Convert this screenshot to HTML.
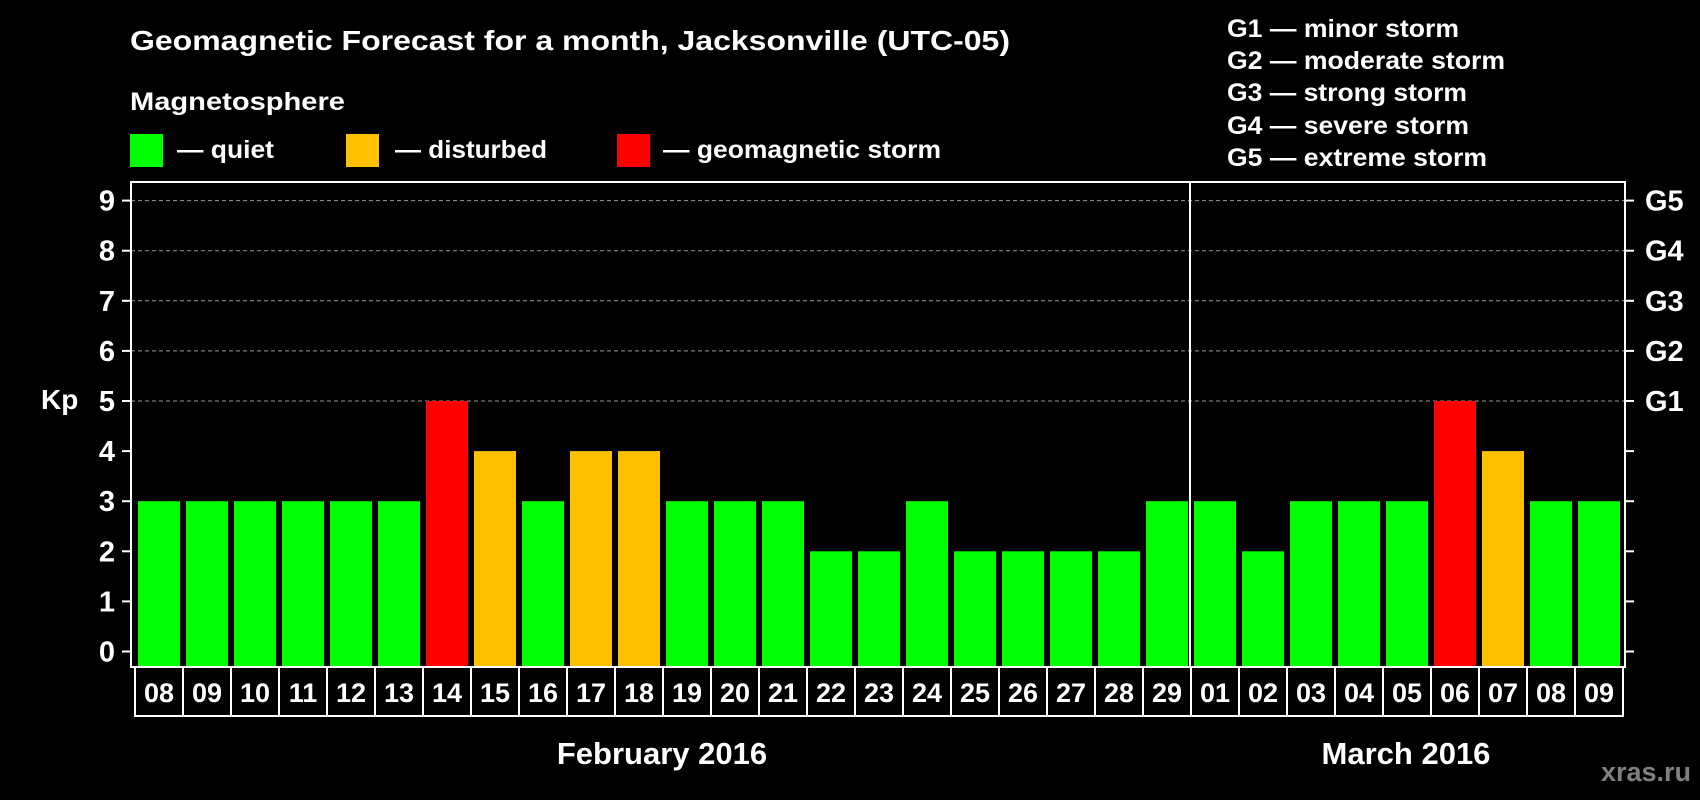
<!DOCTYPE html>
<html><head><meta charset="utf-8"><style>
html,body{margin:0;padding:0;background:#000;width:1700px;height:800px;overflow:hidden}
svg{display:block;font-family:"Liberation Sans",Arial,sans-serif;font-weight:bold}
</style></head><body>
<svg id="chart" width="1700" height="800" viewBox="0 0 1700 800">
<rect width="1700" height="800" fill="#000"/>
<text x="130" y="50" fill="#fff" font-size="28" textLength="880" lengthAdjust="spacingAndGlyphs">Geomagnetic Forecast for a month, Jacksonville (UTC-05)</text>
<text x="130" y="110" fill="#fff" font-size="25" textLength="215" lengthAdjust="spacingAndGlyphs">Magnetosphere</text>
<g><rect x="130" y="134" width="33" height="33" fill="#00ff00"/><text x="177" y="158" fill="#fff" font-size="25" textLength="97" lengthAdjust="spacingAndGlyphs">— quiet</text></g>
<g><rect x="346" y="134" width="33" height="33" fill="#ffc000"/><text x="395" y="158" fill="#fff" font-size="25" textLength="152" lengthAdjust="spacingAndGlyphs">— disturbed</text></g>
<g><rect x="617" y="134" width="33" height="33" fill="#ff0000"/><text x="663" y="158" fill="#fff" font-size="25" textLength="278" lengthAdjust="spacingAndGlyphs">— geomagnetic storm</text></g>
<g fill="#fff" font-size="25">
<text x="1227" y="37" textLength="232" lengthAdjust="spacingAndGlyphs">G1 — minor storm</text>
<text x="1227" y="69" textLength="278" lengthAdjust="spacingAndGlyphs">G2 — moderate storm</text>
<text x="1227" y="101" textLength="240" lengthAdjust="spacingAndGlyphs">G3 — strong storm</text>
<text x="1227" y="134" textLength="242" lengthAdjust="spacingAndGlyphs">G4 — severe storm</text>
<text x="1227" y="166" textLength="260" lengthAdjust="spacingAndGlyphs">G5 — extreme storm</text>
</g>
<text x="41" y="409" fill="#fff" font-size="28">Kp</text>
<text x="662" y="764" fill="#fff" font-size="31" text-anchor="middle">February 2016</text>
<text x="1406" y="764" fill="#fff" font-size="31" text-anchor="middle">March 2016</text>
<text x="1691" y="781" fill="#808080" font-size="27" text-anchor="end">xras.ru</text>
<g id="plot"></g>
</svg>
<script>
const dayLabels=["08","09","10","11","12","13","14","15","16","17","18","19","20","21","22","23","24","25","26","27","28","29","01","02","03","04","05","06","07","08","09"];
const kpValues=[3,3,3,3,3,3,5,4,3,4,4,3,3,3,2,2,3,2,2,2,2,3,3,2,3,3,3,5,4,3,3];
const yTicks=[0,1,2,3,4,5,6,7,8,9];
const gLabels=["G1","G2","G3","G4","G5"];
const monthBreakIndex=22;
const NS="http://www.w3.org/2000/svg";
const plot=document.getElementById("plot");
const X0=134,BAND=48,FL=131,FR=1625,FT=182,FB=667;
const xs=i=>X0+i*BAND;
const ys=v=>651.5-v*50.1;
function mk(tag,attrs){const e=document.createElementNS(NS,tag);for(const k in attrs)e.setAttribute(k,attrs[k]);plot.appendChild(e);return e;}
yTicks.forEach(v=>{
  if(v>=5){const g=mk("line",{x1:FL,x2:FR,y1:ys(v),y2:ys(v),stroke:"#9a9a9a","stroke-width":1,"stroke-dasharray":"4,3"});
  
  }
  const t1=mk("line",{x1:FL-9,x2:FL,y1:ys(v),y2:ys(v),stroke:"#fff","stroke-width":2});
  
  
  const t2=mk("line",{x1:FR,x2:FR+9,y1:ys(v),y2:ys(v),stroke:"#fff","stroke-width":2});
  
  
  const l=mk("text",{x:115,y:ys(v)+10,fill:"#fff","font-size":29,"text-anchor":"end"});
  l.textContent=v;
  
  
});
gLabels.forEach((g,i)=>{
  const l=mk("text",{x:1645,y:ys(5+i)+10,fill:"#fff","font-size":29});
  l.textContent=g;
  
  
});
kpValues.forEach((v,i)=>{
  const c=v>=5?"#ff0000":(v>=4?"#ffc000":"#00ff00");
  const b=mk("rect",{x:xs(i)+4,y:ys(v),width:42,height:FB-ys(v),fill:c});
  
  
});
const fr=mk("rect",{x:FL,y:FT,width:FR-FL,height:FB-FT,fill:"none",stroke:"#fff","stroke-width":2});


const dv=mk("line",{x1:xs(monthBreakIndex),x2:xs(monthBreakIndex),y1:FT,y2:FB,stroke:"#fff","stroke-width":2});


dayLabels.forEach((d,i)=>{
  const r=mk("rect",{x:xs(i)+1,y:FB,width:BAND,height:49,fill:"none",stroke:"#fff","stroke-width":2});
  
  
  const t=mk("text",{x:xs(i)+1+BAND/2,y:FB+35,fill:"#fff","font-size":27,"text-anchor":"middle"});
  t.textContent=d;
  
  
});
</script>
</body></html>
